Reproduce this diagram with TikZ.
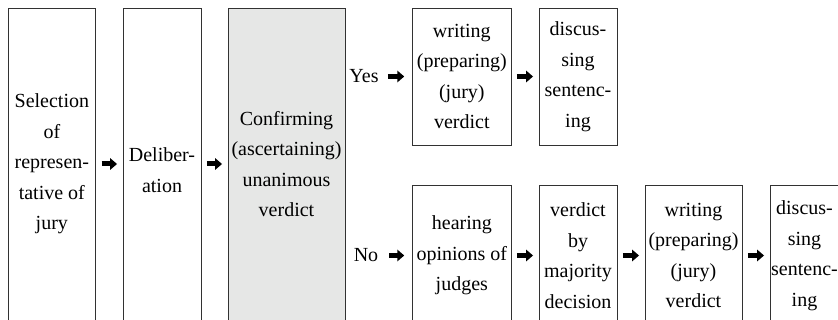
\documentclass[tikz,border=0pt]{standalone}
\usepackage{fontspec}
\setmainfont{Liberation Serif}
\usetikzlibrary{arrows.meta}
\definecolor{gfill}{RGB}{230,231,230}
\definecolor{edge}{RGB}{50,50,50}
\begin{document}
\begin{tikzpicture}[x=1pt,y=-1pt,
  box/.style={draw=edge, line width=0.9pt, inner sep=0pt, align=center,
    font=\fontsize{20}{30.5}\selectfont},
  lbl/.style={inner sep=0pt, align=center, font=\fontsize{20}{30.5}\selectfont},
  arr/.style={draw=black, line width=5pt, -{Triangle[length=7pt,width=11.5pt]},
    shorten <=5.5pt, shorten >=5.5pt}]
\useasboundingbox (0,0) rectangle (838,320);
\clip (0,0) rectangle (838,319.3);
% left column boxes (top 8, bottom 320)
\node[box, minimum width=87.7pt, minimum height=312pt] (b1) at (51.85,164)
  {Selection\\of\\represen-\\tative of\\jury};
\node[box, minimum width=78pt, minimum height=312pt] (b2) at (162,164) {};
\node[lbl] (b2t) at ([yshift=-6pt]b2.center) {Deliber-\\ation};
\node[box, fill=gfill, minimum width=117pt, minimum height=312pt] (b3) at (286.5,164)
  {Confirming\\(ascertaining)\\unanimous\\verdict};
% yes row
\node[lbl] (yes) at (364,76.5) {Yes};
\node[box, minimum width=98.3pt, minimum height=137pt] (y1) at (461.85,76.5)
  {writing\\(preparing)\\(jury)\\verdict};
\node[box, minimum width=78pt, minimum height=137pt] (y2) at (578,76.5)
  {discus-\\sing\\sentenc-\\ing};
% no row
\node[lbl] (no) at (366,255.5) {No};
\node[box, minimum width=98.3pt, minimum height=141pt] (n1) at (461.85,255.5)
  {hearing\\opinions of\\judges};
\node[box, minimum width=78pt, minimum height=141pt] (n2) at (578,255.5)
  {verdict\\by\\majority\\decision};
\node[box, minimum width=97pt, minimum height=141pt] (n3) at (693.5,255.5)
  {writing\\(preparing)\\(jury)\\verdict};
\node[box, minimum width=69pt, minimum height=141pt] (n4) at (804.5,255.5)
  {discus-\\sing\\sentenc-\\ing};
% arrows
\draw[arr] (b1) -- (b2);
\draw[arr] (b2) -- (b3);
\draw[arr, shorten <=9pt, shorten >=8pt] (yes) -- (y1);
\draw[arr] (y1) -- (y2);
\draw[arr, shorten <=11pt, shorten >=8pt] (no) -- (n1);
\draw[arr] (n1) -- (n2);
\draw[arr] (n2) -- (n3);
\draw[arr] (n3) -- (n4);
\end{tikzpicture}
\end{document}
